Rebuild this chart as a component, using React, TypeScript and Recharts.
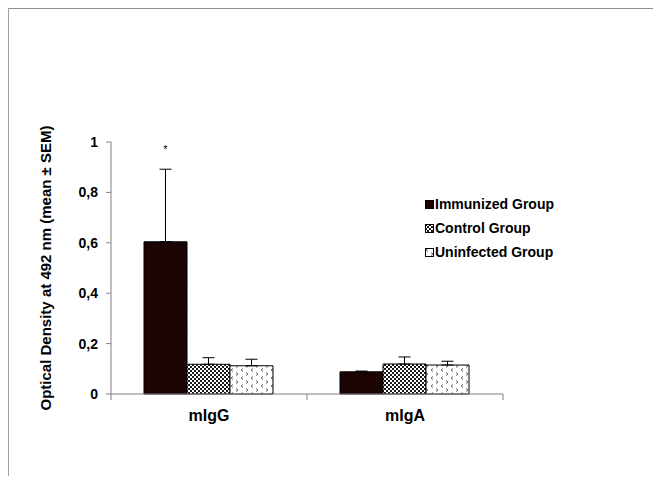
import React from 'react';
import { BarChart, Bar, XAxis, YAxis, ErrorBar, LabelList } from 'recharts';

const categories = ['mIgG', 'mIgA'];
const seriesNames = ['Immunized Group', 'Control Group', 'Uninfected Group'];
const immunized = [0.604, 0.088];
const immunizedSem = [0.288, 0.003];
const control = [0.118, 0.119];
const controlSem = [0.026, 0.028];
const uninfected = [0.112, 0.115];
const uninfectedSem = [0.026, 0.015];
const significance = ['*', ''];
const yTicks = [0, 0.2, 0.4, 0.6, 0.8, 1];

const data = categories.map((name, i) => ({
  name,
  imm: immunized[i],
  immErr: [0, immunizedSem[i]],
  ctl: control[i],
  ctlErr: [0, controlSem[i]],
  uni: uninfected[i],
  uniErr: [0, uninfectedSem[i]],
  sig: significance[i],
}));

const FONT = '"Liberation Sans", Arial, Helvetica, sans-serif';
const fills = ['url(#pImm)', 'url(#pCtl)', 'url(#pUni)'];
const AXIS = '#808080';

const W = 661;
const H = 484;
const M = { top: 142, right: 158, bottom: 60, left: 51 };
const YW = 60;
const plotWidth = W - M.left - M.right - YW;
const band = plotWidth / categories.length;

const Patterns = () => (
  <svg width={0} height={0} style={{ position: 'absolute' }}>
    <defs>
      <pattern id="pImm" patternUnits="userSpaceOnUse" width={3} height={3}>
        <rect width={3} height={3} fill="#240606" />
        <path d="M0 3 L3 0" stroke="#0a0000" strokeWidth={1} />
      </pattern>
      <pattern id="pCtl" patternUnits="userSpaceOnUse" width={4} height={4}>
        <rect width={4} height={4} fill="#ffffff" />
        <rect x={0} y={0} width={2} height={2} fill="#1a1a1a" />
        <rect x={2} y={2} width={2} height={2} fill="#1a1a1a" />
      </pattern>
      <pattern id="pUni" patternUnits="userSpaceOnUse" width={10} height={8}>
        <rect width={10} height={8} fill="#ffffff" />
        <path d="M3 0.5 L1 2 L3 3.5" stroke="#555" strokeWidth={0.9} fill="none" />
        <path d="M6 4.5 L8 6 L6 7.5" stroke="#555" strokeWidth={0.9} fill="none" />
      </pattern>
    </defs>
  </svg>
);

const SigLabel = (props: any) => {
  const { x, y, width, height, index } = props;
  const mark = significance[index];
  if (!mark) return null;
  const v = immunized[index];
  const scale = height / v;
  const errTop = y + height - (v + immunizedSem[index]) * scale;
  return (
    <text x={x + width / 2} y={errTop - 22} dy="0.5em" textAnchor="middle" fontSize={11} fontFamily={FONT} fill="#000">
      {mark}
    </text>
  );
};

const YLabel = (props: any) => {
  const vb = props.viewBox;
  const x = vb.x;
  const y = vb.y + vb.height / 2;
  return (
    <text x={x} y={y} transform={`rotate(-90, ${x}, ${y})`} textAnchor="middle" fontSize={15} fontWeight="bold" fontFamily={FONT} fill="#000">
      Optical Density at 492 nm (mean ± SEM)
    </text>
  );
};

const CatTick = (props: any) => {
  const { x, y, payload, index } = props;
  const half = band / 2;
  return (
    <g>
      {index === 0 && <line x1={x - half} y1={y} x2={x - half} y2={y + 6} stroke={AXIS} strokeWidth={1} />}
      <line x1={x + half} y1={y} x2={x + half} y2={y + 6} stroke={AXIS} strokeWidth={1} />
      <text x={x} y={y + 16} dy="0.71em" textAnchor="middle" fontSize={16} fontWeight="bold" fontFamily={FONT} fill="#000">
        {payload.value}
      </text>
    </g>
  );
};

const Legend = () => (
  <div style={{ position: 'absolute', left: 425, top: 192, fontFamily: FONT, fontWeight: 'bold', fontSize: 14, lineHeight: '24px', color: '#000' }}>
    {seriesNames.map((n, i) => (
      <div key={n} style={{ whiteSpace: 'nowrap' }}>
        <svg width={9} height={9} style={{ verticalAlign: 'baseline', marginRight: 1 }}>
          <rect x={0.5} y={0.5} width={8} height={8} fill={fills[i]} stroke="#000" strokeWidth={1} />
        </svg>
        {n}
      </div>
    ))}
  </div>
);

export default function App() {
  return (
    <div style={{ position: 'relative', margin: -8, width: W, height: H, background: '#fff', overflow: 'hidden' }}>
      <Patterns />
      <div style={{ position: 'absolute', left: 7, top: 6, width: W, height: H, boxSizing: 'border-box', borderTop: '3px solid #8c8c8c', borderLeft: '2px solid #a0a0a0' }} />
      <div style={{ position: 'absolute', left: 0, top: 0 }}>
        <BarChart width={W} height={H} data={data} margin={M} barCategoryGap={33} barGap={0}>
          <XAxis
            dataKey="name"
            height={30}
            axisLine={{ stroke: AXIS, strokeWidth: 1 }}
            tickLine={false}
            tickSize={0}
            tickMargin={0}
            tick={<CatTick />}
          />
          <YAxis
            width={YW}
            domain={[0, 1]}
            ticks={yTicks}
            tickSize={5}
            tickMargin={8}
            axisLine={{ stroke: AXIS, strokeWidth: 1 }}
            tickLine={{ stroke: AXIS, strokeWidth: 1 }}
            tickFormatter={(v: number) => String(v).replace('.', ',')}
            tick={{ fontSize: 14, fontWeight: 'bold', fontFamily: FONT, fill: '#000' }}
            label={<YLabel />}
          />
          <Bar dataKey="imm" name={seriesNames[0]} fill={fills[0]} stroke="#000" strokeWidth={1} isAnimationActive={false}>
            <ErrorBar dataKey="immErr" width={6} stroke="#000" strokeWidth={1} />
            <LabelList dataKey="sig" content={<SigLabel />} />
          </Bar>
          <Bar dataKey="ctl" name={seriesNames[1]} fill={fills[1]} stroke="#000" strokeWidth={1} isAnimationActive={false}>
            <ErrorBar dataKey="ctlErr" width={6} stroke="#000" strokeWidth={1} />
          </Bar>
          <Bar dataKey="uni" name={seriesNames[2]} fill={fills[2]} stroke="#000" strokeWidth={1} isAnimationActive={false}>
            <ErrorBar dataKey="uniErr" width={6} stroke="#000" strokeWidth={1} />
          </Bar>
        </BarChart>
      </div>
      <Legend />
    </div>
  );
}
